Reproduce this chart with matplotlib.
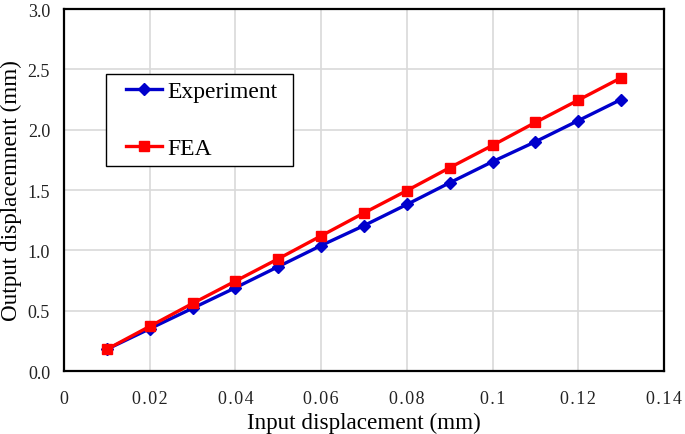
import matplotlib
matplotlib.use("Agg")
import matplotlib.pyplot as plt
from matplotlib.patches import Rectangle

input_disp = [0.01, 0.02, 0.03, 0.04, 0.05, 0.06, 0.07, 0.08, 0.09, 0.10, 0.11, 0.12, 0.13]
experiment = [0.18, 0.35, 0.52, 0.69, 0.865, 1.04, 1.205, 1.38, 1.56, 1.735, 1.90, 2.075, 2.25]
fea = [0.18, 0.37, 0.56, 0.745, 0.93, 1.12, 1.31, 1.495, 1.685, 1.87, 2.06, 2.245, 2.43]

x_ticks = [0, 0.02, 0.04, 0.06, 0.08, 0.1, 0.12, 0.14]
x_tick_labels = ["0", "0.02", "0.04", "0.06", "0.08", "0.1", "0.12", "0.14"]
y_ticks = [0.0, 0.5, 1.0, 1.5, 2.0, 2.5, 3.0]
y_tick_labels = ["0.0", "0.5", "1.0", "1.5", "2.0", "2.5", "3.0"]

plt.rcParams['font.family'] = ['Liberation Serif', 'DejaVu Serif']

fig = plt.figure(figsize=(6.85, 4.35), dpi=100)
ax = fig.add_axes([0.0934, 0.1448, 0.8759, 0.8322])

ax.plot(input_disp, experiment, color='#0000CC', lw=2.4, marker='D', ms=6.5,
        label='Experiment', zorder=3)
ax.plot(input_disp, fea, color='#FF0000', lw=2.4, marker='s', ms=7.5,
        label='FEA', zorder=4)

ax.set_xlim(0, 0.14)
ax.set_ylim(0, 3.0)
ax.set_xticks(x_ticks)
ax.set_xticklabels(["\u200a".join(s) for s in x_tick_labels])
ax.set_yticks(y_ticks)
ax.set_yticklabels(y_tick_labels)
ax.tick_params(axis='both', length=0, labelsize=13)
ax.tick_params(axis='x', pad=14)
ax.tick_params(axis='y', pad=10)
for lab in ax.get_xticklabels() + ax.get_yticklabels():
    lab.set_color('#222222')

ax.grid(True, color='#d9d9d9', lw=1.2)
ax.set_axisbelow(True)
for sp in ax.spines.values():
    sp.set_color('black')
    sp.set_linewidth(1.6)

ax.set_xlabel('Input displacement (mm)', fontsize=16.7, labelpad=3)
ax.set_ylabel('Output displacemnent (mm)', fontsize=16.7, labelpad=4)

# legend frame
ax.add_patch(Rectangle((0.07, 0.5663), 0.3117, 0.2541, transform=ax.transAxes,
                       facecolor='white', edgecolor='black', lw=1.0, zorder=5))
leg = ax.legend(loc='center left', bbox_to_anchor=(0.103, 0.6934), frameon=False,
                fontsize=17, handlelength=1.55, labelspacing=1.5, borderpad=0,
                handletextpad=0.2, borderaxespad=0)
leg.set_zorder(6)

fig.savefig('out.png', dpi=100)
